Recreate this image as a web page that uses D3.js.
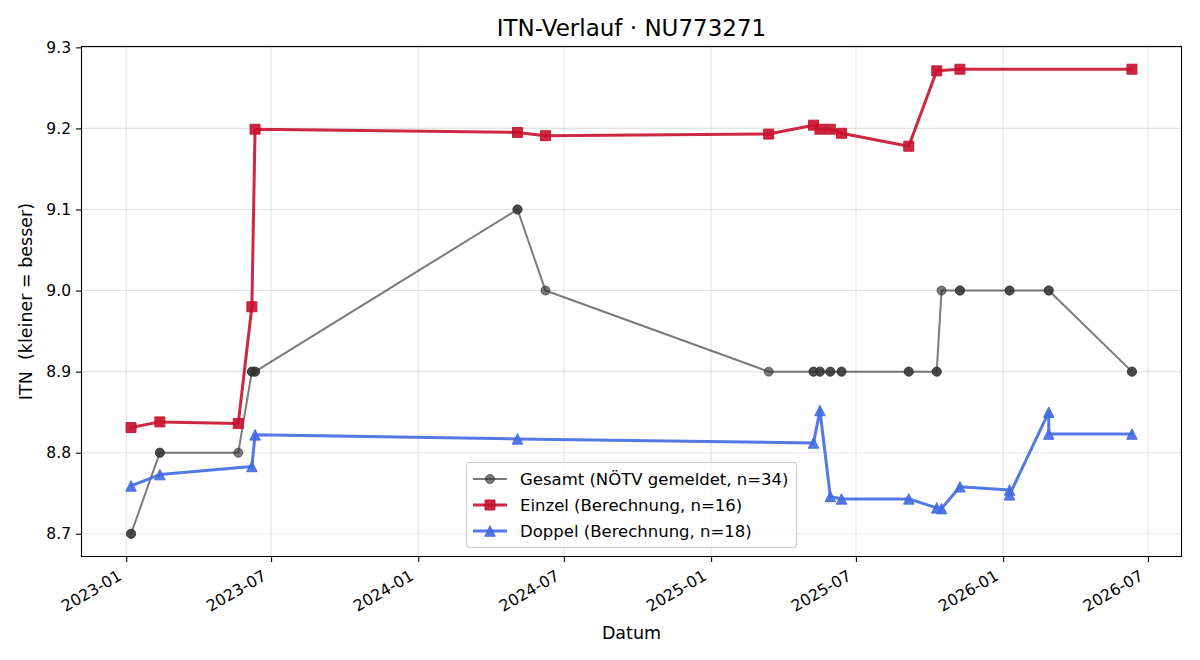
<!DOCTYPE html>
<html>
<head>
<meta charset="utf-8">
<script src="https://cdn.jsdelivr.net/npm/d3@7"></script>
<style>
  html, body { margin: 0; padding: 0; background: #fff; }
  svg { display: block; font-family: "DejaVu Sans", sans-serif; }
  text { white-space: pre; }
</style>
</head>
<body>
<svg id="chart" width="1200" height="660"></svg>
<script>
// ---- data ----
const gesamtDates = ["2023-01-07","2023-01-07","2023-02-12","2023-02-12","2023-05-21","2023-06-07","2023-06-07","2023-06-11","2023-06-11","2024-05-04","2024-05-04","2024-06-08","2025-03-14","2025-05-09","2025-05-09","2025-05-17","2025-05-17","2025-05-30","2025-05-30","2025-06-13","2025-06-13","2025-09-05","2025-09-05","2025-10-10","2025-10-10","2025-10-16","2025-11-08","2025-11-08","2026-01-09","2026-01-09","2026-02-27","2026-02-27","2026-06-11","2026-06-11"];
const gesamtValues = [8.7,8.7,8.8,8.8,8.8,8.9,8.9,8.9,8.9,9.1,9.1,9.0,8.9,8.9,8.9,8.9,8.9,8.9,8.9,8.9,8.9,8.9,8.9,8.9,8.9,9.0,9.0,9.0,9.0,9.0,9.0,9.0,8.9,8.9];

const einzelDates = ["2023-01-07","2023-02-12","2023-05-21","2023-06-07","2023-06-11","2024-05-04","2024-06-08","2025-03-14","2025-05-09","2025-05-17","2025-05-30","2025-06-13","2025-09-05","2025-10-10","2025-11-08","2026-06-11"];
const einzelValues = [8.831,8.838,8.836,8.980,9.199,9.195,9.191,9.193,9.204,9.199,9.199,9.194,9.178,9.271,9.273,9.273];

const doppelDates = ["2023-01-07","2023-02-12","2023-06-07","2023-06-11","2024-05-04","2025-05-09","2025-05-17","2025-05-30","2025-06-13","2025-09-05","2025-10-10","2025-10-16","2025-11-08","2026-01-09","2026-01-09","2026-02-27","2026-02-27","2026-06-11"];
const doppelValues = [8.759,8.773,8.783,8.822,8.817,8.812,8.852,8.746,8.743,8.743,8.732,8.731,8.758,8.754,8.748,8.850,8.823,8.823];

const yTicks = [8.7, 8.8, 8.9, 9.0, 9.1, 9.2, 9.3];
const xTickLabels = ["2023-01","2023-07","2024-01","2024-07","2025-01","2025-07","2026-01","2026-07"];

const seriesNames = ["Gesamt (NÖTV gemeldet, n=34)", "Einzel (Berechnung, n=16)", "Doppel (Berechnung, n=18)"];
const titleText = "ITN-Verlauf · NU773271";
const xLabelText = "Datum";
const yLabelText = "ITN  (kleiner = besser)";

// ---- layout ----
const W = 1200, H = 660;
const M = { left: 81, top: 46, right: 1182, bottom: 557 };
const parse = d3.timeParse("%Y-%m-%d");
const parseMonth = d3.timeParse("%Y-%m");

const mk = (dates, vals) => dates.map((d, i) => ({ x: parse(d), y: vals[i] }));
const series = [
  { name: seriesNames[0], data: mk(gesamtDates, gesamtValues), color: "#333333", opacity: 0.65, lw: 2, marker: "circle", ms: 9 },
  { name: seriesNames[1], data: mk(einzelDates, einzelValues), color: "#C8102E", opacity: 0.9, lw: 3, marker: "square", ms: 10 },
  { name: seriesNames[2], data: mk(doppelDates, doppelValues), color: "#4169E1", opacity: 0.9, lw: 3, marker: "triangle", ms: 10.5 }
];

const all = series.flatMap(s => s.data);
const xExt = d3.extent(all, d => d.x);
const yExt = d3.extent(all, d => d.y);
const xPad = (xExt[1] - xExt[0]) * 0.05;
const yPad = (yExt[1] - yExt[0]) * 0.05;

const x = d3.scaleTime()
  .domain([new Date(+xExt[0] - xPad), new Date(+xExt[1] + xPad)])
  .range([M.left, M.right]);
const y = d3.scaleLinear()
  .domain([yExt[0] - yPad, yExt[1] + yPad])
  .range([M.bottom, M.top]);

const svg = d3.select("#chart");
svg.append("rect").attr("width", W).attr("height", H).attr("fill", "#fff");

const xTickDates = xTickLabels.map(parseMonth);

// grid
const grid = svg.append("g");
grid.selectAll("line.gx").data(xTickDates).join("line")
  .attr("x1", d => x(d)).attr("x2", d => x(d))
  .attr("y1", M.top).attr("y2", M.bottom)
  .attr("stroke", "#b0b0b0").attr("stroke-opacity", 0.35).attr("stroke-width", 1.1);
grid.selectAll("line.gy").data(yTicks).join("line")
  .attr("y1", d => y(d)).attr("y2", d => y(d))
  .attr("x1", M.left).attr("x2", M.right)
  .attr("stroke", "#b0b0b0").attr("stroke-opacity", 0.35).attr("stroke-width", 1.1);

// markers
function markerPath(type, s) {
  const h = s / 2;
  if (type === "square") return `M${-h},${-h}H${h}V${h}H${-h}Z`;
  if (type === "triangle") return `M0,${-h}L${h},${h}L${-h},${h}Z`;
  return d3.symbol(d3.symbolCircle, Math.PI * h * h)();
}

const plot = svg.append("g");
series.forEach(s => {
  const line = d3.line().x(d => x(d.x)).y(d => y(d.y));
  plot.append("path").datum(s.data)
    .attr("d", line)
    .attr("fill", "none")
    .attr("stroke", s.color)
    .attr("stroke-opacity", s.opacity)
    .attr("stroke-width", s.lw)
    .attr("stroke-linejoin", "round")
    .attr("stroke-linecap", "round");
  plot.selectAll(null).data(s.data).join("path")
    .attr("transform", d => `translate(${x(d.x)},${y(d.y)})`)
    .attr("d", markerPath(s.marker, s.ms))
    .attr("fill", s.color).attr("fill-opacity", s.opacity)
    .attr("stroke", s.color).attr("stroke-opacity", s.opacity).attr("stroke-width", 1);
});

// axes frame
svg.append("rect")
  .attr("x", M.left + 0.5).attr("y", M.top + 0.5)
  .attr("width", M.right - M.left - 1).attr("height", M.bottom - M.top - 1)
  .attr("fill", "none").attr("stroke", "#000").attr("stroke-width", 1.1);

// y axis ticks
const yAxis = d3.axisLeft(y).tickValues(yTicks).tickFormat(d3.format(".1f")).tickSize(5).tickPadding(5);
const gy = svg.append("g").attr("transform", `translate(${M.left},0)`).call(yAxis);
gy.select(".domain").remove();
gy.selectAll(".tick line").attr("stroke", "#000").attr("stroke-width", 1.1);
gy.selectAll(".tick text").attr("font-size", "15.5px").attr("fill", "#000")
  .attr("font-family", "DejaVu Sans");

// x axis ticks
const xAxis = d3.axisBottom(x).tickValues(xTickDates).tickFormat(d3.timeFormat("%Y-%m")).tickSize(5);
const gx = svg.append("g").attr("transform", `translate(0,${M.bottom})`).call(xAxis);
gx.select(".domain").remove();
gx.selectAll(".tick line").attr("stroke", "#000").attr("stroke-width", 1.1);
gx.selectAll(".tick text")
  .attr("font-size", "15.8px").attr("fill", "#000").attr("font-family", "DejaVu Sans")
  .attr("text-anchor", "end")
  .attr("y", 0).attr("dy", 0)
  .attr("transform", "translate(-4,22) rotate(-30)");

// labels
svg.append("text").attr("x", (M.left + M.right) / 2).attr("y", 28)
  .attr("text-anchor", "middle").attr("dominant-baseline", "central")
  .attr("font-size", "23px").attr("fill", "#000").text(titleText);
svg.append("text").attr("x", (M.left + M.right) / 2).attr("y", 633)
  .attr("text-anchor", "middle").attr("dominant-baseline", "central")
  .attr("font-size", "17.5px").attr("fill", "#000").text(xLabelText);
svg.append("text")
  .attr("transform", `translate(26,${(M.top + M.bottom) / 2}) rotate(-90)`)
  .attr("text-anchor", "middle").attr("dominant-baseline", "central")
  .attr("xml:space", "preserve")
  .attr("font-size", "17.5px").attr("fill", "#000").text(yLabelText);

// legend
const lg = svg.append("g").attr("transform", "translate(466,462)");
lg.append("rect").attr("x", 0.5).attr("y", 0.5).attr("width", 330).attr("height", 85)
  .attr("rx", 3).attr("ry", 3)
  .attr("fill", "#fff").attr("fill-opacity", 0.8)
  .attr("stroke", "#cccccc").attr("stroke-width", 1.1);
series.forEach((s, i) => {
  const cy = 17 + i * 26;
  const g = lg.append("g").attr("transform", `translate(0,${cy})`);
  g.append("line").attr("x1", 7).attr("x2", 41).attr("y1", 0).attr("y2", 0)
    .attr("stroke", s.color).attr("stroke-opacity", s.opacity).attr("stroke-width", s.lw);
  g.append("path").attr("transform", "translate(24,0)")
    .attr("d", markerPath(s.marker, s.ms))
    .attr("fill", s.color).attr("fill-opacity", s.opacity)
    .attr("stroke", s.color).attr("stroke-opacity", s.opacity).attr("stroke-width", 1);
  g.append("text").attr("x", 54).attr("y", 0).attr("dominant-baseline", "central")
    .attr("font-size", "16.5px").attr("fill", "#000").text(s.name);
});
</script>
</body>
</html>
